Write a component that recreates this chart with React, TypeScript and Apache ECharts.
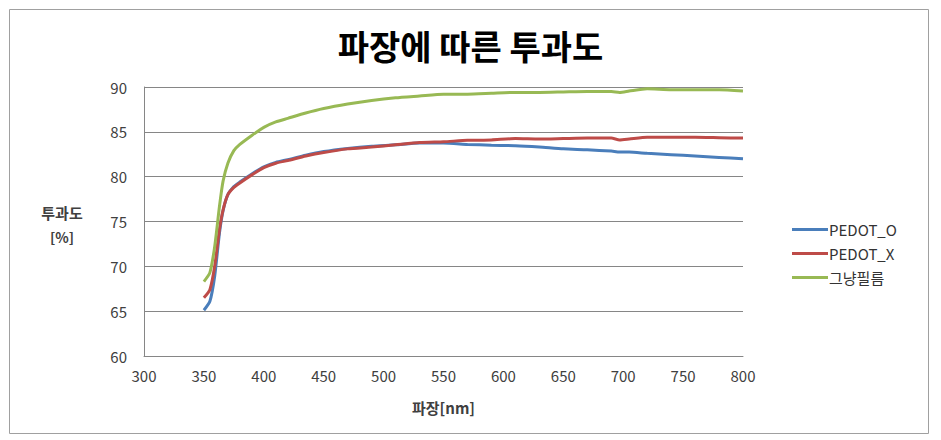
import React, { useEffect, useRef } from "react";
import * as echarts from "echarts";

const wavelengths = [350, 355, 359, 363, 366, 370, 375, 380, 390, 400, 410, 420, 435, 450, 470, 490, 510, 530, 550, 570, 590, 610, 630, 650, 670, 690, 697, 705, 720, 740, 760, 780, 800];
const pedotO = [65.1, 66.1, 68.9, 73.7, 76.2, 78.0, 78.9, 79.4, 80.3, 81.1, 81.6, 81.9, 82.4, 82.8, 83.15, 83.4, 83.55, 83.75, 83.75, 83.6, 83.5, 83.45, 83.3, 83.1, 83.0, 82.85, 82.75, 82.75, 82.6, 82.45, 82.3, 82.15, 82.0];
const pedotX = [66.5, 67.4, 70.0, 74.1, 76.3, 78.0, 78.8, 79.3, 80.2, 81.0, 81.5, 81.8, 82.3, 82.7, 83.1, 83.3, 83.55, 83.8, 83.9, 84.05, 84.1, 84.25, 84.2, 84.25, 84.3, 84.3, 84.1, 84.2, 84.4, 84.4, 84.4, 84.35, 84.3];
const film = [68.3, 69.3, 72.2, 76.7, 79.5, 81.5, 82.9, 83.6, 84.6, 85.5, 86.1, 86.5, 87.1, 87.6, 88.1, 88.5, 88.8, 89.0, 89.2, 89.2, 89.3, 89.4, 89.4, 89.45, 89.5, 89.5, 89.4, 89.55, 89.8, 89.7, 89.7, 89.7, 89.55];
const seriesNames = ["PEDOT_O", "PEDOT_X", "그냥필름"];
const seriesColors = ["#4A7EBB", "#BE4B48", "#98B954"];

const FONT = "'Noto Sans CJK KR', 'Noto Sans', sans-serif";

export default function App() {
  const ref = useRef<HTMLDivElement>(null);
  useEffect(() => {
    if (!ref.current) return;
    const chart = echarts.init(ref.current, undefined, { renderer: "svg" });
    const all = [pedotO, pedotX, film];
    chart.setOption({
      animation: false,
      backgroundColor: "#ffffff",
      textStyle: { fontFamily: FONT },
      title: {
        text: "파장에 따른 투과도",
        left: "center",
        top: 23,
        textStyle: { fontSize: 34, fontWeight: "bold", color: "#000000", fontFamily: FONT },
      },
      grid: { left: 144, right: 198, top: 87, bottom: 84 },
      legend: {
        orient: "vertical",
        left: 787,
        top: 217,
        icon: "rect",
        itemWidth: 36,
        itemHeight: 3,
        itemGap: 9,
        data: seriesNames,
        textStyle: { fontSize: 15, color: "#333333", fontFamily: FONT, padding: [0, 0, 0, -4] },
      },
      xAxis: {
        type: "value",
        min: 300,
        max: 800,
        interval: 50,
        name: "파장[nm]",
        nameLocation: "middle",
        nameGap: 44,
        nameTextStyle: { fontSize: 15, fontWeight: "bold", color: "#404040", fontFamily: FONT },
        axisLine: { show: true, lineStyle: { color: "#868686", width: 1 } },
        axisTick: { show: false },
        axisLabel: { fontSize: 15, color: "#404040", margin: 12, fontFamily: FONT },
        splitLine: { show: false },
      },
      yAxis: {
        type: "value",
        min: 60,
        max: 90,
        interval: 5,
        axisLine: { show: true, lineStyle: { color: "#868686", width: 1 } },
        axisTick: { show: false },
        axisLabel: { fontSize: 15, color: "#404040", margin: 17, fontFamily: FONT },
        splitLine: { show: true, lineStyle: { color: "#868686", width: 1 } },
      },
      graphic: [
        {
          type: "rect",
          shape: { x: 9.5, y: 9.5, width: 919, height: 424 },
          style: { fill: "none", stroke: "#a0a0a0", lineWidth: 1 },
          silent: true,
        },
        {
          type: "text",
          x: 62,
          y: 212,
          style: { text: "투과도", fontSize: 15, fontWeight: "bold", fill: "#404040", align: "center", verticalAlign: "middle", fontFamily: FONT },
        },
        {
          type: "text",
          x: 62,
          y: 237,
          style: { text: "[%]", fontSize: 14, fontWeight: "bold", fill: "#404040", align: "center", verticalAlign: "middle", fontFamily: FONT },
        },
      ],
      series: seriesNames.map((name, i) => ({
        name,
        type: "line",
        symbol: "none",
        smooth: 0.2,
        data: wavelengths.map((w, j) => [w, all[i][j]]),
        lineStyle: { color: seriesColors[i], width: 3 },
        itemStyle: { color: seriesColors[i] },
      })),
    });
    return () => chart.dispose();
  }, []);
  return <div ref={ref} style={{ position: "fixed", left: 0, top: 0, width: 941, height: 440 }} />;
}
